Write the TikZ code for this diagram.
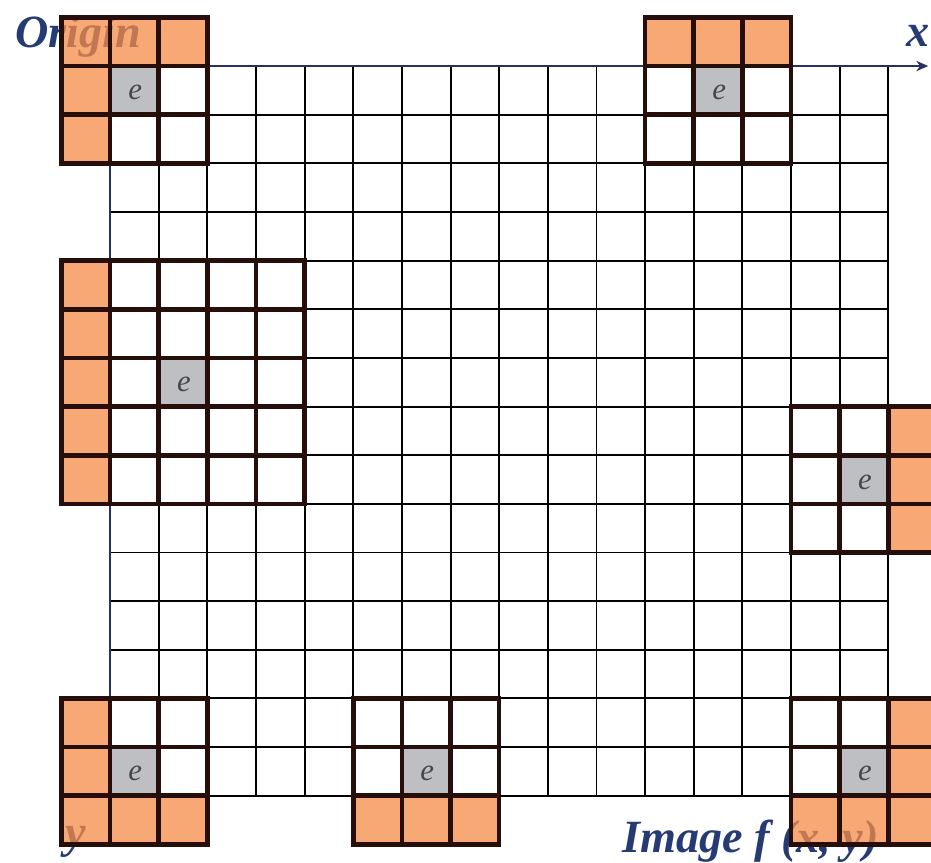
\documentclass[tikz,border=0pt]{standalone}
\usepackage{fontspec}
\setmainfont{Liberation Serif}
\usetikzlibrary{arrows.meta}
\definecolor{winorange}{RGB}{245,140,70}
\definecolor{wingray}{RGB}{190,191,195}
\definecolor{labelblue}{RGB}{38,58,115}
\definecolor{axisblue}{RGB}{40,48,100}
\definecolor{winedge}{RGB}{38,14,10}
\definecolor{egray}{RGB}{70,70,75}
\tikzset{
  gridline/.style={line width=1.15pt, black},
  winline/.style={line width=2.7pt, winedge, line cap=rect},
  orangecell/.style={fill=winorange, fill opacity=0.75},
  graycell/.style={fill=wingray},
  axisline/.style={line width=1.3pt, axisblue},
  bigtext/.style={text=labelblue, font=\fontsize{27}{30}\selectfont\bfseries\itshape, inner sep=0pt},
  elabel/.style={text=egray, font=\fontsize{18}{22}\selectfont\itshape, inner sep=0pt}
}
\newcommand{\ocell}[2]{\path[orangecell] (#1,-#2) rectangle ++(1,-1);}
\newcommand{\gcell}[2]{\path[graycell] (#1,-#2) rectangle ++(1,-1);}
\begin{document}
\begin{tikzpicture}[x=1cm,y=1cm]
\useasboundingbox (-2.261,1.357) rectangle (16.876,-16.382);
\clip (-2.261,1.357) rectangle (16.876,-16.382);
\fill[white] (-2.261,1.357) rectangle (16.876,-16.382);

% labels that sit under the translucent orange cells
\node[bigtext, anchor=base west] (origin) at (-1.95,0.38) {Origin};
\node[bigtext, anchor=base west] (imglabel) at (10.52,-16.16) {Image \textit{f} (\textit{x}, \textit{y})};
\node[bigtext, anchor=center] (ylab) at (-0.70,-15.95) {y};
\node[bigtext, anchor=center] (xlab) at (16.61,0.62) {x};

% image grid 16 x 15
\draw[gridline] (0,0) grid (16,-15);

% axes
\coordinate (O) at (0,0);
\coordinate (xend) at (16.82,0);
\coordinate (yend) at (0,-16);
\draw[axisline, -{Stealth[length=7pt,width=6pt]}] (O) -- (xend);
\draw[axisline] (O) -- (yend);

% window 1: top-left corner
\ocell{-1}{-1}\ocell{0}{-1}\ocell{1}{-1}\ocell{-1}{0}\ocell{-1}{1}
\gcell{0}{0}
% window 2: top edge
\ocell{11}{-1}\ocell{12}{-1}\ocell{13}{-1}
\gcell{12}{0}
% window 3: 5x5 on left edge
\foreach \r in {4,...,8} {\ocell{-1}{\r}}
\gcell{1}{6}
% window 4: right edge
\foreach \r in {7,8,9} {\ocell{16}{\r}}
\gcell{15}{8}
% window 5: bottom-left corner
\ocell{-1}{13}\ocell{-1}{14}\ocell{-1}{15}\ocell{0}{15}\ocell{1}{15}
\gcell{0}{14}
% window 6: bottom edge
\ocell{5}{15}\ocell{6}{15}\ocell{7}{15}
\gcell{6}{14}
% window 7: bottom-right corner
\ocell{16}{13}\ocell{16}{14}\ocell{16}{15}\ocell{14}{15}\ocell{15}{15}
\gcell{15}{14}

% window borders
\draw[winline] (-1,1) grid (2,-2);
\draw[winline] (11,1) grid (14,-2);
\draw[winline] (-1,-4) grid (4,-9);
\draw[winline] (14,-7) grid (17,-10);
\draw[winline] (-1,-13) grid (2,-16);
\draw[winline] (5,-13) grid (8,-16);
\draw[winline] (14,-13) grid (17,-16);

% centre pixels
\node[elabel] (e1) at (0.52,-0.55) {e};
\node[elabel] (e2) at (12.52,-0.55) {e};
\node[elabel] (e3) at (1.52,-6.55) {e};
\node[elabel] (e4) at (15.52,-8.55) {e};
\node[elabel] (e5) at (0.52,-14.55) {e};
\node[elabel] (e6) at (6.52,-14.55) {e};
\node[elabel] (e7) at (15.52,-14.55) {e};
\end{tikzpicture}
\end{document}
